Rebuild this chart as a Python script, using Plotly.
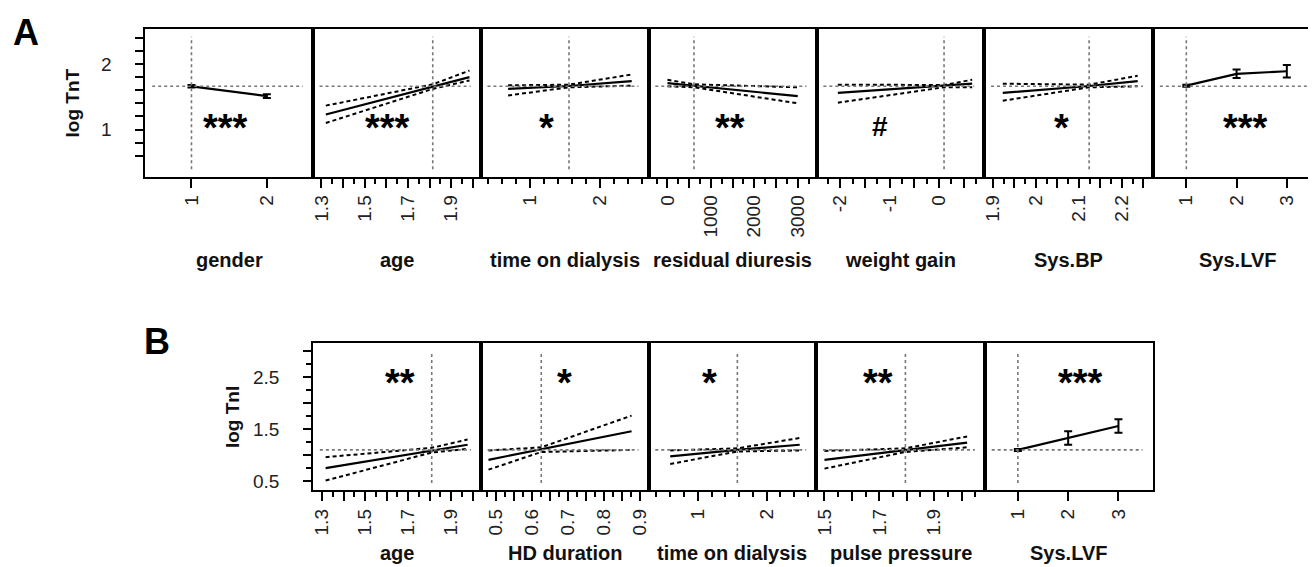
import plotly.graph_objects as go

W, H = 1316, 567

# ------------------------------------------------------------------ data
# Panel A : log TnT
A_titles = ["gender", "age", "time on dialysis", "residual diuresis",
            "weight gain", "Sys.BP", "Sys.LVF"]
A_sig = ["***", "***", "*", "**", "#", "*", "***"]
A_ref_y = 1.66
A_ref_x = [1, 1.815, 1.557, 611, 0.1, 2.124, 1]

gender_x = [1, 2]
gender_y = [1.66, 1.51]
gender_err = [0.02, 0.03]

ageA_x = [1.32, 1.815, 1.985]
ageA_fit = [1.23, 1.655, 1.80]
ageA_up = [1.365, 1.69, 1.90]
ageA_lo = [1.10, 1.62, 1.75]

timeA_x = [0.69, 1.557, 2.45]
timeA_fit = [1.62, 1.665, 1.74]
timeA_up = [1.675, 1.685, 1.84]
timeA_lo = [1.52, 1.645, 1.67]

resid_x = [0, 611, 3000]
resid_fit = [1.71, 1.67, 1.51]
resid_up = [1.76, 1.69, 1.645]
resid_lo = [1.66, 1.645, 1.40]

weight_x = [-2.05, 0.1, 0.67]
weight_fit = [1.56, 1.665, 1.70]
weight_up = [1.685, 1.68, 1.76]
weight_lo = [1.41, 1.645, 1.645]

sysbp_x = [1.923, 2.124, 2.237]
sysbp_fit = [1.56, 1.665, 1.74]
sysbp_up = [1.70, 1.685, 1.82]
sysbp_lo = [1.44, 1.645, 1.66]

lvfA_x = [1, 2, 3]
lvfA_y = [1.67, 1.85, 1.89]
lvfA_err = [0.015, 0.065, 0.095]

# Panel B : log TnI
B_titles = ["age", "HD duration", "time on dialysis", "pulse pressure", "Sys.LVF"]
B_sig = ["**", "*", "*", "**", "***"]
B_ref_y = 1.10
B_ref_x = [1.81, 0.626, 1.575, 1.795, 1]

ageB_x = [1.316, 1.81, 1.977]
ageB_fit = [0.75, 1.09, 1.20]
ageB_up = [0.96, 1.14, 1.30]
ageB_lo = [0.51, 1.05, 1.12]

hd_x = [0.48, 0.626, 0.876]
hd_fit = [0.91, 1.11, 1.46]
hd_up = [1.09, 1.15, 1.76]
hd_lo = [0.72, 1.06, 1.10]

timeB_x = [0.6, 1.575, 2.48]
timeB_fit = [0.975, 1.10, 1.20]
timeB_up = [1.09, 1.13, 1.33]
timeB_lo = [0.83, 1.07, 1.09]

pulse_x = [1.5, 1.795, 2.02]
pulse_fit = [0.91, 1.10, 1.24]
pulse_up = [1.08, 1.13, 1.36]
pulse_lo = [0.74, 1.06, 1.15]

lvfB_x = [1, 2, 3]
lvfB_y = [1.10, 1.33, 1.56]
lvfB_err = [0.02, 0.13, 0.13]

# axis ranges
A_xrange = [[0.39, 2.61], [1.26, 2.037], [0.3, 2.69], [-435, 3435],
            [-2.48, 0.915], [1.88, 2.273], [0.34, 3.68]]
B_xrange = [[1.258, 2.039], [0.459, 0.923], [0.286, 2.72], [1.47, 2.085], [0.346, 3.68]]
A_yrange = [0.28, 2.54]
B_yrange = [0.32, 3.15]

# tick marks: (major values, labels, minor values)
A_ticks = [
    ([1, 2], ["1", "2"], []),
    ([1.3, 1.4, 1.5, 1.6, 1.7, 1.8, 1.9, 2.0],
     ["1.3", "", "1.5", "", "1.7", "", "1.9", ""],
     [1.35, 1.45, 1.55, 1.65, 1.75, 1.85, 1.95]),
    ([1, 2], ["1", "2"], [0.4, 0.6, 0.8, 1.2, 1.4, 1.6, 1.8, 2.2, 2.4, 2.6]),
    ([0, 500, 1000, 1500, 2000, 2500, 3000],
     ["0", "", "1000", "", "2000", "", "3000"],
     [-250, 250, 750, 1250, 1750, 2250, 2750, 3250]),
    ([-2, -1.5, -1, -0.5, 0, 0.5], ["-2", "", "-1", "", "0", ""],
     [-2.25, -1.75, -1.25, -0.75, -0.25, 0.25, 0.75]),
    ([1.9, 1.95, 2.0, 2.05, 2.1, 2.15, 2.2, 2.25],
     ["1.9", "", "2", "", "2.1", "", "2.2", ""],
     [1.925, 1.975, 2.025, 2.075, 2.125, 2.175, 2.225]),
    ([1, 2, 3], ["1", "2", "3"], []),
]
B_ticks = [
    ([1.3, 1.4, 1.5, 1.6, 1.7, 1.8, 1.9, 2.0],
     ["1.3", "", "1.5", "", "1.7", "", "1.9", ""],
     [1.35, 1.45, 1.55, 1.65, 1.75, 1.85, 1.95]),
    ([0.5, 0.55, 0.6, 0.65, 0.7, 0.75, 0.8, 0.85, 0.9],
     ["0.5", "", "0.6", "", "0.7", "", "0.8", "", "0.9"],
     [0.475, 0.525, 0.575, 0.625, 0.675, 0.725, 0.775, 0.825, 0.875]),
    ([1, 2], ["1", "2"], [0.4, 0.6, 0.8, 1.2, 1.4, 1.6, 1.8, 2.2, 2.4, 2.6]),
    ([1.5, 1.6, 1.7, 1.8, 1.9, 2.0], ["1.5", "", "1.7", "", "1.9", ""],
     [1.55, 1.65, 1.75, 1.85, 1.95, 2.05]),
    ([1, 2, 3], ["1", "2", "3"], []),
]
A_yticks = ([0.6, 0.8, 1.0, 1.2, 1.4, 1.6, 1.8, 2.0, 2.2, 2.4],
            ["", "", "1", "", "", "", "", "2", "", ""], [])
B_yticks = ([0.5, 1.0, 1.5, 2.0, 2.5, 3.0], ["0.5", "", "1.5", "", "2.5", ""],
            [0.75, 1.25, 1.75, 2.25, 2.75])

A_curves = [None,
            (ageA_x, ageA_fit, ageA_up, ageA_lo),
            (timeA_x, timeA_fit, timeA_up, timeA_lo),
            (resid_x, resid_fit, resid_up, resid_lo),
            (weight_x, weight_fit, weight_up, weight_lo),
            (sysbp_x, sysbp_fit, sysbp_up, sysbp_lo),
            None]
A_points = {0: (gender_x, gender_y, gender_err), 6: (lvfA_x, lvfA_y, lvfA_err)}
B_curves = [(ageB_x, ageB_fit, ageB_up, ageB_lo),
            (hd_x, hd_fit, hd_up, hd_lo),
            (timeB_x, timeB_fit, timeB_up, timeB_lo),
            (pulse_x, pulse_fit, pulse_up, pulse_lo),
            None]
B_points = {4: (lvfB_x, lvfB_y, lvfB_err)}

# ------------------------------------------------------------------ layout geometry (pixels)
A_edges = [135, 303, 471.5, 640, 808.7, 977, 1146.5, 1315]
B_edges = [303.3, 471.7, 640, 808.3, 977.7, 1146]
A_top, A_bot = 20.7, 169
B_top, B_bot = 336, 483.3
A_sig_pos = [(0.476, 0.33), (0.445, 0.33), (0.389, 0.33), (0.484, 0.33),
             (0.38, 0.34), (0.456, 0.33), (0.551, 0.33)]
B_sig_pos = [(0.515, 0.73), (0.499, 0.73), (0.362, 0.73), (0.368, 0.73), (0.568, 0.73)]

FONT = "Liberation Sans, Arial, sans-serif"
DASH = "4px,3px"
fig = go.Figure()
layout = dict(width=W, height=H, margin=dict(l=0, r=0, t=0, b=0),
              paper_bgcolor="white", plot_bgcolor="white", showlegend=False,
              font=dict(family=FONT, color="black"))
shapes, annotations = [], []

def add_row(start, edges, top, bot, titles, sigs, sig_pos, ref_y, ref_x,
            xranges, yrange, ticks, yticks, curves, points, title_y, ylabel, ylabel_x):
    n = len(titles)
    for k in range(n):
        i = start + k
        xa = "xaxis" if i == 1 else f"xaxis{i}"
        ya = "yaxis" if i == 1 else f"yaxis{i}"
        xs = "x" if i == 1 else f"x{i}"
        ys = "y" if i == 1 else f"y{i}"
        maj, lab, mnr = ticks[k]
        layout[xa] = dict(domain=[edges[k] / W, edges[k + 1] / W], anchor=ys,
                          range=xranges[k], showgrid=False, zeroline=False,
                          showline=True, mirror=True, linecolor="black", linewidth=2,
                          tickmode="array", tickvals=maj, ticktext=lab,
                          ticks="outside", ticklen=9, tickwidth=2, tickcolor="black",
                          tickangle=-90, ticklabelstandoff=0,
                          tickfont=dict(size=19, family=FONT, color="#222"),
                          minor=dict(tickmode="array", tickvals=mnr, ticks="outside",
                                     ticklen=5, tickwidth=2, tickcolor="black"))
        ydict = dict(domain=[1 - bot / H, 1 - top / H], anchor=xs, range=yrange,
                     showgrid=False, zeroline=False, showline=True, mirror=True,
                     linecolor="black", linewidth=2)
        if k == 0:
            ydict.update(tickmode="array", tickvals=yticks[0], ticktext=yticks[1],
                         ticks="outside", ticklen=8, tickwidth=2, tickcolor="black",
                         ticklabelstandoff=20,
                         tickfont=dict(size=19, family=FONT, color="#222"),
                         minor=dict(tickmode="array", tickvals=yticks[2], ticks="outside",
                                    ticklen=5, tickwidth=2, tickcolor="black"))
        else:
            ydict.update(ticks="", showticklabels=False)
        layout[ya] = ydict

        # reference lines
        shapes.append(dict(type="line", xref=f"{xs} domain", x0=0.04, x1=0.94,
                           yref=ys, y0=ref_y, y1=ref_y,
                           line=dict(color="#777", width=1.6, dash="dot")))
        shapes.append(dict(type="line", xref=xs, x0=ref_x[k], x1=ref_x[k],
                           yref=f"{ys} domain", y0=0.05, y1=0.945,
                           line=dict(color="#777", width=1.6, dash="dot")))

        c = curves[k]
        if c is not None:
            cx, fit, up, lo = c
            for yy, dash, wd in ((up, DASH, 2), (lo, DASH, 2), (fit, "solid", 2.2)):
                fig.add_trace(go.Scatter(x=cx, y=yy, mode="lines", xaxis=xs, yaxis=ys,
                                         line=dict(color="black", width=wd, dash=dash,
                                                   shape="linear"),
                                         hoverinfo="skip"))
        if k in points:
            px_, py_, pe = points[k]
            fig.add_trace(go.Scatter(x=px_, y=py_, mode="lines", xaxis=xs, yaxis=ys,
                                     line=dict(color="black", width=2.2),
                                     error_y=dict(type="data", array=pe, visible=True,
                                                  color="black", thickness=2, width=4),
                                     hoverinfo="skip"))

        # significance marks
        sx, sy = sig_pos[k]
        fsize = 28 if sigs[k] == "#" else 38
        annotations.append(dict(text=f"<b>{sigs[k]}</b>", xref=f"{xs} domain",
                                yref=f"{ys} domain",
                                x=sx, y=sy, showarrow=False, xanchor="center",
                                yanchor="middle", font=dict(size=fsize, family=FONT,
                                                            color="black")))
        # axis title
        annotations.append(dict(text=f"<b>{titles[k]}</b>", xref="paper", yref="paper",
                                x=(edges[k] + edges[k + 1]) / 2 / W, y=1 - title_y / H,
                                showarrow=False, xanchor="center", yanchor="middle",
                                font=dict(size=20, family=FONT, color="#111")))
    annotations.append(dict(text=f"<b>{ylabel}</b>", xref="paper", yref="paper",
                            x=ylabel_x / W, y=1 - (top + bot) / 2 / H, textangle=-90,
                            showarrow=False, xanchor="center", yanchor="middle",
                            font=dict(size=19, family=FONT, color="#111")))

add_row(1, A_edges, A_top, A_bot, A_titles, A_sig, A_sig_pos, A_ref_y, A_ref_x,
        A_xrange, A_yrange, A_ticks, A_yticks, A_curves, A_points, 252, "log TnT", 62)
add_row(8, B_edges, B_top, B_bot, B_titles, B_sig, B_sig_pos, B_ref_y, B_ref_x,
        B_xrange, B_yrange, B_ticks, B_yticks, B_curves, B_points, 546, "log TnI", 223)

annotations.append(dict(text="<b>A</b>", xref="paper", yref="paper", x=0, y=1 - 2 / H,
                        showarrow=False, xanchor="left", yanchor="top",
                        font=dict(size=36, family=FONT, color="black")))
annotations.append(dict(text="<b>B</b>", xref="paper", yref="paper", x=147 / W, y=1 - 334 / H,
                        showarrow=False, xanchor="center", yanchor="middle",
                        font=dict(size=36, family=FONT, color="black")))

layout["shapes"] = shapes
layout["annotations"] = annotations
fig.update_layout(**layout)
fig.write_html("out.html")
